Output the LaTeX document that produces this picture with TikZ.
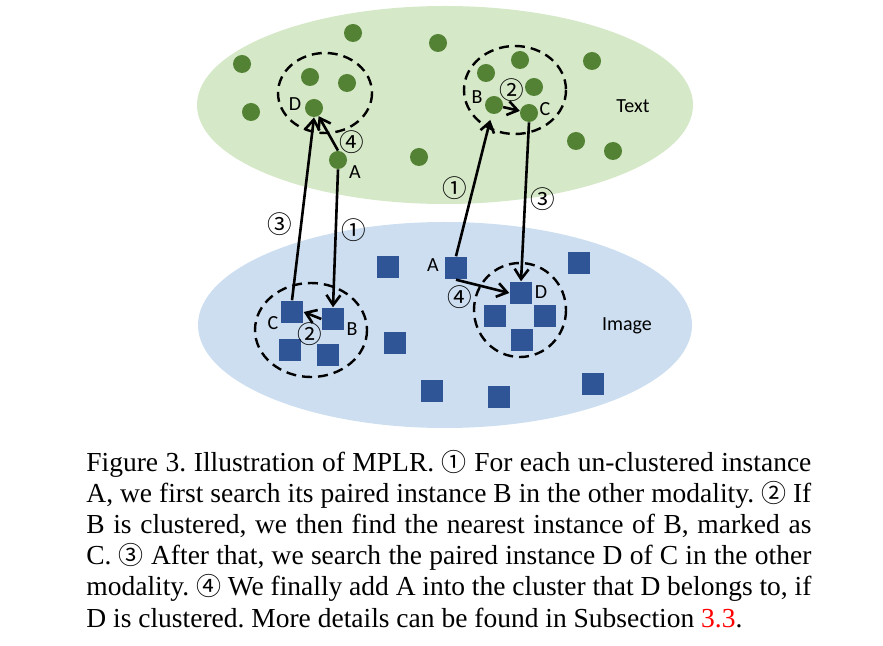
\documentclass[tikz,border=0pt]{standalone}
\usepackage{fontspec}
\setmainfont{Liberation Serif}
\newfontfamily\calibri{Carlito}
\newfontfamily\cjk{Noto Sans CJK SC}
\usetikzlibrary{arrows.meta}
\definecolor{txtbg}{RGB}{213,232,199}
\definecolor{txtdot}{RGB}{84,130,53}
\definecolor{imgbg}{RGB}{204,222,240}
\definecolor{imgbox}{RGB}{47,85,151}
\newcommand{\capnum}[1]{{\cjk\fontsize{12.5}{12.5}\selectfont #1}}
\tikzset{
  tdot/.style={circle, fill=txtdot, minimum size=9pt, inner sep=0pt},
  ibox/.style={rectangle, fill=imgbox, minimum size=11.3pt, inner sep=0pt},
  lbl/.style={font=\calibri\fontsize{10}{10}\selectfont, inner sep=0pt},
  num/.style={font=\cjk\fontsize{12.3}{12.3}\selectfont, inner sep=0pt},
  arr/.style={-{Straight Barb[length=5pt,width=7pt]}, line width=1.3pt},
  grp/.style={dash pattern=on 5pt off 3pt, line width=1.2pt},
}
\begin{document}
\begin{tikzpicture}[x=0.5pt, y=-0.5pt]
\useasboundingbox (0,0) rectangle (883,646);
% 两个模态
\fill[txtbg] (445,105) ellipse [x radius=248, y radius=99];
\fill[imgbg] (445,325) ellipse [x radius=247, y radius=103];
\node[lbl] (ltext) at (633,106) {Text};
\node[lbl] (limage) at (627,326) {Image};
% 文本实例
\node[tdot] (t1) at (242,64) {};
\node[tdot] (t2) at (353,33) {};
\node[tdot] (t3) at (438,43) {};
\node[tdot] (t4) at (310,77) {};
\node[tdot] (t5) at (347,83) {};
\node[tdot] (t6) at (251,112) {};
\node[tdot] (tD) at (314,108) {};
\node[tdot] (tA) at (338,160) {};
\node[tdot] (t7) at (419,157) {};
\node[tdot] (t8) at (486,73) {};
\node[tdot] (t9) at (520,60) {};
\node[tdot] (t10) at (534,87) {};
\node[tdot] (tB) at (494,105) {};
\node[tdot] (tC) at (529,113) {};
\node[tdot] (t11) at (592,61) {};
\node[tdot] (t12) at (576,141) {};
\node[tdot] (t13) at (613,151) {};
% 图像实例
\node[ibox] (i1) at (388,267) {};
\node[ibox] (iA) at (456,268) {};
\node[ibox] (i2) at (579,263) {};
\node[ibox] (iC) at (292,312) {};
\node[ibox] (iB) at (333,319) {};
\node[ibox] (i3) at (290,350) {};
\node[ibox] (i4) at (328,355) {};
\node[ibox] (i5) at (395,343) {};
\node[ibox] (iD) at (521,293) {};
\node[ibox] (i6) at (495,316) {};
\node[ibox] (i7) at (545,316) {};
\node[ibox] (i8) at (522,340) {};
\node[ibox] (i9) at (432,391) {};
\node[ibox] (i10) at (499,397) {};
\node[ibox] (i11) at (593,384) {};
% 聚类圈
\draw[grp] (325,93) ellipse [x radius=47, y radius=40];
\draw[grp] (515,90) ellipse [x radius=51, y radius=44];
\draw[grp] (311,330) ellipse [x radius=56, y radius=47];
\draw[grp] (520,310) ellipse [x radius=46, y radius=47];
% 字母标签
\node[lbl] (ltD) at (295,104) {D};
\node[lbl] (ltA) at (355,172) {A};
\node[lbl] (ltB) at (477,97) {B};
\node[lbl] (ltC) at (545,109) {C};
\node[lbl] (liC) at (273,323) {C};
\node[lbl] (liB) at (352,329) {B};
\node[lbl] (liA) at (433,265) {A};
\node[lbl] (liD) at (541,292) {D};
% 箭头
\draw[arr] (tA.south) -- (iB.north);
\draw[arr] (iB.west) -- (iC.east);
\draw[arr] (iC.north) -- (tD.south);
\draw[arr] (tA.north) -- (tD);
\draw[arr, shorten >=3pt] (iA.north) -- (tB);
\draw[arr] (tB) -- (tC);
\draw[arr] (tC.south) -- (iD.north);
\draw[arr] (iA.south) -- (iD.west);
% 步骤编号
\node[num] (n1a) at (354,230) {①};
\node[num] (n2a) at (310,334) {②};
\node[num] (n3a) at (280,224) {③};
\node[num] (n4a) at (352,142) {④};
\node[num] (n1b) at (455,188) {①};
\node[num] (n2b) at (512,90) {②};
\node[num] (n3b) at (543,199) {③};
\node[num] (n4b) at (460,297) {④};
% 图注
\node[anchor=base west, text width=362.5pt, align=justify, inner sep=0pt,
  font=\fontsize{13.75}{15.6}\selectfont] (cap) at (86,471)
  {\frenchspacing\hyphenpenalty=10000 Figure 3. Illustration of MPLR. \capnum{①} For each un-clustered instance\linebreak
  A, we first search its paired instance B in the other modality. \capnum{②} If\linebreak
  B is clustered, we then find the nearest instance of B, marked as\linebreak
  C. \capnum{③} After that, we search the paired instance D of C in the other\linebreak
  modality. \capnum{④} We finally add A into the cluster that D belongs to, if\linebreak
  D is clustered. More details can be found in Subsection \textcolor{red}{3.3}.};
\end{tikzpicture}
\end{document}
